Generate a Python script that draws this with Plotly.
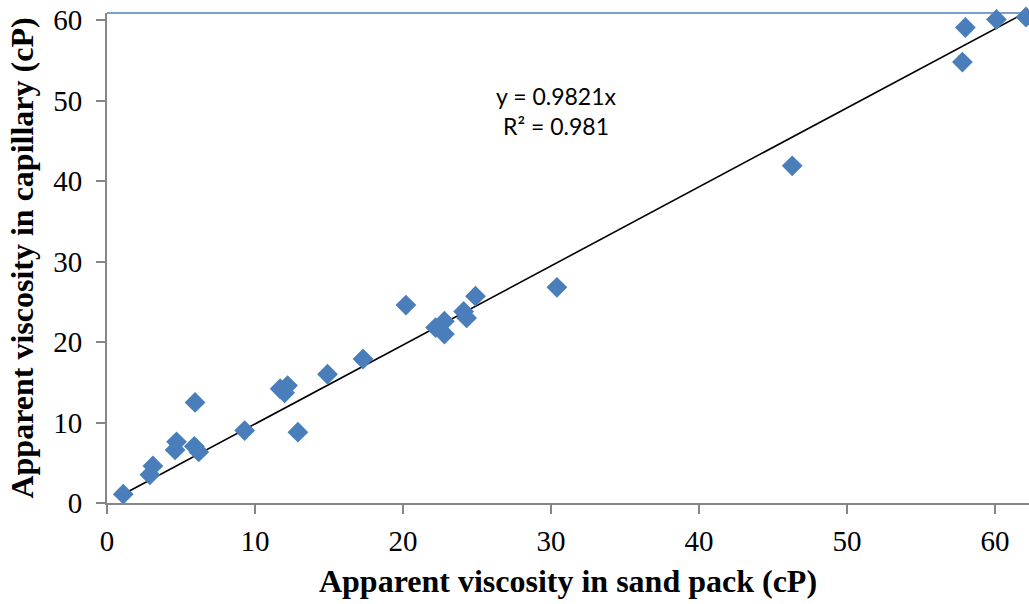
import plotly.graph_objects as go

# Apparent viscosity measured in the sand pack vs. in the capillary (cP)
sand_pack = [1.1, 2.9, 3.1, 4.7, 4.6, 5.9, 6.2, 5.95, 9.3, 11.7, 12.2, 12.0, 12.9,
             14.9, 17.3, 20.2, 22.2, 22.8, 22.8, 24.1, 24.3, 24.9, 30.4, 46.3,
             57.8, 58.0, 60.1, 62.1]
capillary = [1.1, 3.5, 4.6, 7.6, 6.6, 7.05, 6.35, 12.5, 9.0, 14.2, 14.6, 13.7, 8.8,
             16.0, 17.9, 24.6, 21.8, 22.6, 21.0, 23.8, 23.0, 25.7, 26.8, 41.9,
             54.8, 59.1, 60.1, 60.4]

# Linear fit through the origin
slope = 0.9821
r_squared = 0.981

x_ticks = [0, 10, 20, 30, 40, 50, 60]
y_ticks = [0, 10, 20, 30, 40, 50, 60]

marker_blue = "#4A7EBB"
axis_grey = "#868686"
serif = "Liberation Serif, Times New Roman, serif"

x_fit = [min(sand_pack), max(sand_pack)]
y_fit = [slope * v for v in x_fit]

fig = go.Figure()
fig.add_trace(go.Scatter(
    x=x_fit, y=y_fit, mode="lines",
    line=dict(color="black", width=1.6),
    hoverinfo="skip", showlegend=False,
))
fig.add_trace(go.Scatter(
    x=sand_pack, y=capillary, mode="markers",
    marker=dict(symbol="diamond", size=16, color=marker_blue, line=dict(width=0)),
    showlegend=False, cliponaxis=False,
))

fig.add_annotation(
    x=0.487, y=0.863, xref="paper", yref="paper",
    text=f"y = {slope}x<br>R² = {r_squared}",
    showarrow=False, align="center",
    font=dict(family="Lato, Carlito, Calibri, sans-serif", size=23, color="black"),
)

# Top border of the plot area
fig.add_shape(type="line", xref="paper", yref="paper", x0=0, x1=1, y0=1, y1=1,
              line=dict(color="#4F81BD", width=1.5))

fig.update_layout(
    width=1029, height=604,
    margin=dict(l=107, r=0, t=13, b=101),
    paper_bgcolor="white", plot_bgcolor="white",
    font=dict(family=serif, color="black"),
)
fig.update_xaxes(
    range=[0, 62.3], tickvals=x_ticks, showgrid=False, zeroline=False,
    showline=True, linecolor=axis_grey, linewidth=2,
    ticks="outside", ticklen=9, tickwidth=2, tickcolor=axis_grey,
    ticklabelstandoff=2,
    tickfont=dict(family=serif, size=29, color="black"),
    title=dict(text="<b>Apparent viscosity in sand pack (cP)</b>",
               font=dict(family=serif, size=32, color="black"), standoff=14),
)
fig.update_yaxes(
    range=[0, 60.9], tickvals=y_ticks, showgrid=False, zeroline=False,
    showline=True, linecolor=axis_grey, linewidth=2,
    ticks="outside", ticklen=9, tickwidth=2, tickcolor=axis_grey,
    ticklabelstandoff=8,
    tickfont=dict(family=serif, size=29, color="black"),
    title=dict(text="<b>Apparent viscosity in capillary (cP)</b>",
               font=dict(family=serif, size=32, color="black"), standoff=10),
)

fig.write_html("out.html")
